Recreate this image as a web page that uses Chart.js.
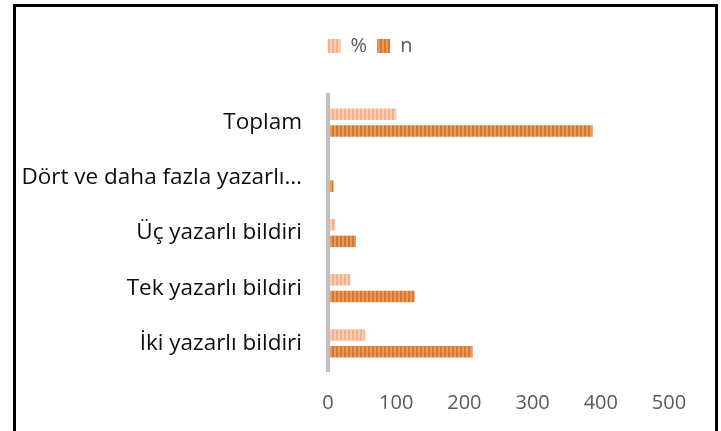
<!DOCTYPE html>
<html>
<head>
<meta charset="utf-8">
<script src="https://cdn.jsdelivr.net/npm/chart.js@4.4.1/dist/chart.umd.min.js"></script>
<style>
  html, body { margin: 0; padding: 0; background: #fff; }
  #wrap { position: relative; width: 721px; height: 431px; overflow: hidden; }
  #frame { position: absolute; left: 13px; top: 4px; width: 705px; height: 500px;
           border: 3px solid #000; border-bottom: none; box-sizing: border-box; pointer-events: none; }
  canvas { position: absolute; left: 0; top: 0; }
</style>
</head>
<body>
<div id="wrap">
  <canvas id="authorsChart" width="721" height="431"></canvas>
  <div id="frame"></div>
</div>
<script>
const categories = ['Toplam', 'Dört ve daha fazla yazarlı…', 'Üç yazarlı bildiri', 'Tek yazarlı bildiri', 'İki yazarlı bildiri'];
const percentValues = [100, 2.1, 10.6, 32.7, 54.6];
const countValues = [388, 8, 41, 127, 212];
const xTicks = [0, 100, 200, 300, 400, 500];

// vertical stripe fill, like the excel pattern
function stripes(light, dark) {
    const c = document.createElement('canvas');
    c.width = 4; c.height = 4;
    const g = c.getContext('2d');
    g.fillStyle = light; g.fillRect(0, 0, 4, 4);
    g.fillStyle = dark; g.fillRect(0, 0, 2, 4);
    return g.createPattern(c, 'repeat');
}

// room under the legend, and legend centred over the plot
const legendSpace = {
    id: 'legendSpace',
    beforeInit(chart) {
        const fit = chart.legend.fit;
        chart.legend.fit = function () {
            fit.bind(chart.legend)();
            this.height = 69;
        };
    },
    afterLayout(chart) {
        chart.legend.left = 71;
        chart.legend.right = 669;
    }
};

const ctx = document.getElementById('authorsChart');
const myChart = new Chart(ctx, {
    type: 'bar',
    data: {
        labels: categories,
        datasets: [{
            label: '%',
            data: percentValues,
            backgroundColor: stripes('#FBCDB2', '#F5B08A'),
            borderWidth: 0
        },
        {
            label: 'n',
            data: countValues,
            backgroundColor: stripes('#E69A5E', '#D6772F'),
            borderWidth: 0
        }]
    },
    options: {
        indexAxis: 'y',
        responsive: false,
        animation: false,
        barPercentage: 0.69,
        categoryPercentage: 0.605,
        layout: { padding: { top: 26, left: 0, right: 52, bottom: 0 } },
        plugins: {
            legend: {
                position: 'top',
                labels: {
                    boxWidth: 13,
                    boxHeight: 14,
                    padding: 10,
                    color: '#595959',
                    font: { family: 'Open Sans', size: 20 }
                }
            },
            tooltip: { enabled: false }
        },
        scales: {
            x: {
                min: 0,
                max: 500,
                afterBuildTicks: s => { s.ticks = xTicks.map(v => ({ value: v })); },
                afterFit: s => { s.height = 60; },
                grid: { display: false },
                border: { display: false },
                ticks: { color: '#595959', padding: 12, font: { family: 'Open Sans', size: 20 } }
            },
            y: {
                afterFit: s => { s.width = 328; },
                grid: { display: false, z: 1 },
                border: { color: '#BFBFBF', width: 4, z: 1 },
                ticks: { color: '#0D0D0D', padding: 18, font: { family: 'Open Sans', size: 22.5 } }
            }
        }
    },
    plugins: [legendSpace]
});
</script>
</body>
</html>
